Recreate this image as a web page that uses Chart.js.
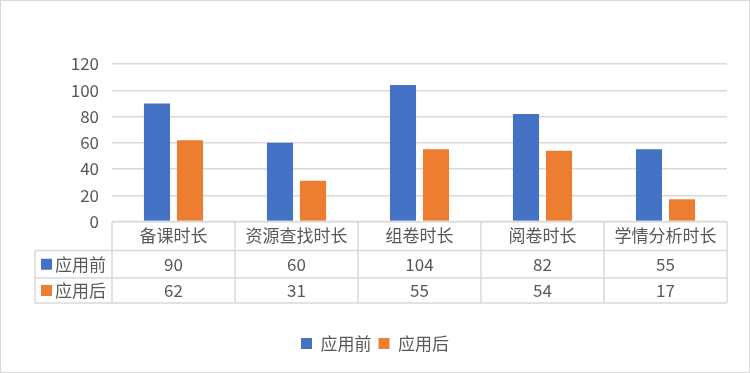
<!DOCTYPE html>
<html>
<head>
<meta charset="utf-8">
<script src="https://cdn.jsdelivr.net/npm/chart.js@4/dist/chart.umd.min.js"></script>
<style>
  html, body { margin: 0; padding: 0; background: #fff; }
  #wrap { width: 750px; height: 373px; }
</style>
</head>
<body>
<div id="wrap"><canvas id="c" width="750" height="373"></canvas></div>
<script>
const categories = ['备课时长', '资源查找时长', '组卷时长', '阅卷时长', '学情分析时长'];
const seriesNames = ['应用前', '应用后'];
const before = [90, 60, 104, 82, 55];
const after = [62, 31, 55, 54, 17];
const yTicks = [0, 20, 40, 60, 80, 100, 120];

const colors = ['#4472C4', '#ED7D31'];
const FONT = '"Noto Sans CJK SC", "Noto Sans", sans-serif';
const TEXT = '#595959';
const LINE = '#d9d9d9';

const tablePlugin = {
  id: 'dataTable',
  beforeDraw(chart) {
    const ctx = chart.ctx;
    ctx.save();
    ctx.fillStyle = '#fff';
    ctx.fillRect(0, 0, chart.width, chart.height);
    ctx.strokeStyle = LINE;
    ctx.lineWidth = 1;
    ctx.strokeRect(0.5, 0.5, chart.width - 1, chart.height - 1);
    ctx.restore();
  },
  afterDraw(chart) {
    const ctx = chart.ctx;
    const a = chart.chartArea;
    const x = chart.scales.x;
    const n = categories.length;
    const w = (a.right - a.left) / n;
    const top = a.bottom;
    const rows = [top, top + 29, top + 56.5, top + 81.5];
    const labelLeft = 35;
    ctx.save();
    ctx.strokeStyle = LINE;
    ctx.lineWidth = 1.5;
    ctx.beginPath();
    ctx.moveTo(a.left, rows[0]); ctx.lineTo(a.right, rows[0]);
    for (let i = 1; i < rows.length; i++) {
      ctx.moveTo(labelLeft, rows[i]); ctx.lineTo(a.right, rows[i]);
    }
    for (let i = 0; i <= n; i++) {
      const px = a.left + i * w;
      ctx.moveTo(px, rows[0]); ctx.lineTo(px, rows[3]);
    }
    ctx.moveTo(labelLeft, rows[1]); ctx.lineTo(labelLeft, rows[3]);
    ctx.stroke();

    ctx.fillStyle = TEXT;
    ctx.font = '17px ' + FONT;
    ctx.textAlign = 'center';
    ctx.textBaseline = 'middle';
    categories.forEach((c, i) => {
      ctx.fillText(c, x.getPixelForValue(i), (rows[0] + rows[1]) / 2);
    });
    const series = [before, after];
    series.forEach((vals, s) => {
      const cy = (rows[s + 1] + rows[s + 2]) / 2;
      vals.forEach((v, i) => {
        ctx.fillText(String(v), x.getPixelForValue(i), cy);
      });
      ctx.fillStyle = colors[s];
      ctx.fillRect(41, cy - 5.5, 11, 11);
      ctx.fillStyle = TEXT;
      ctx.textAlign = 'left';
      ctx.fillText(seriesNames[s], 55, cy);
      ctx.textAlign = 'center';
    });
    ctx.restore();
  }
};

new Chart(document.getElementById('c'), {
  type: 'bar',
  data: {
    labels: categories,
    datasets: [
      { label: seriesNames[0], data: before, backgroundColor: colors[0], borderWidth: 0 },
      { label: seriesNames[1], data: after, backgroundColor: colors[1], borderWidth: 0 }
    ]
  },
  options: {
    responsive: false,
    animation: false,
    devicePixelRatio: 1,
    datasets: { bar: { categoryPercentage: 0.537, barPercentage: 0.79 } },
    layout: { padding: { top: 64, right: 0, bottom: 11, left: 0 } },
    plugins: {
      legend: {
        position: 'bottom',
        labels: {
          boxWidth: 11, boxHeight: 11, padding: 7,
          color: TEXT, font: { family: FONT, size: 17 }
        }
      },
      tooltip: { enabled: false }
    },
    scales: {
      x: {
        grid: { display: false },
        border: { display: false },
        ticks: { display: false },
        afterFit(s) { s.height = 106.5; }
      },
      y: {
        min: 0, max: 120,
        afterBuildTicks(s) { s.ticks = yTicks.map(v => ({ value: v })); },
        grid: { color: LINE, lineWidth: 1.5, drawTicks: false },
        border: { display: false },
        ticks: { padding: 13, color: TEXT, font: { family: FONT, size: 17 } },
        afterFit(s) { s.width = 112; }
      },
      yRight: {
        position: 'right',
        grid: { display: false, drawOnChartArea: false },
        border: { display: false },
        ticks: { display: false },
        afterFit(s) { s.width = 23; }
      }
    }
  },
  plugins: [tablePlugin]
});
</script>
</body>
</html>
